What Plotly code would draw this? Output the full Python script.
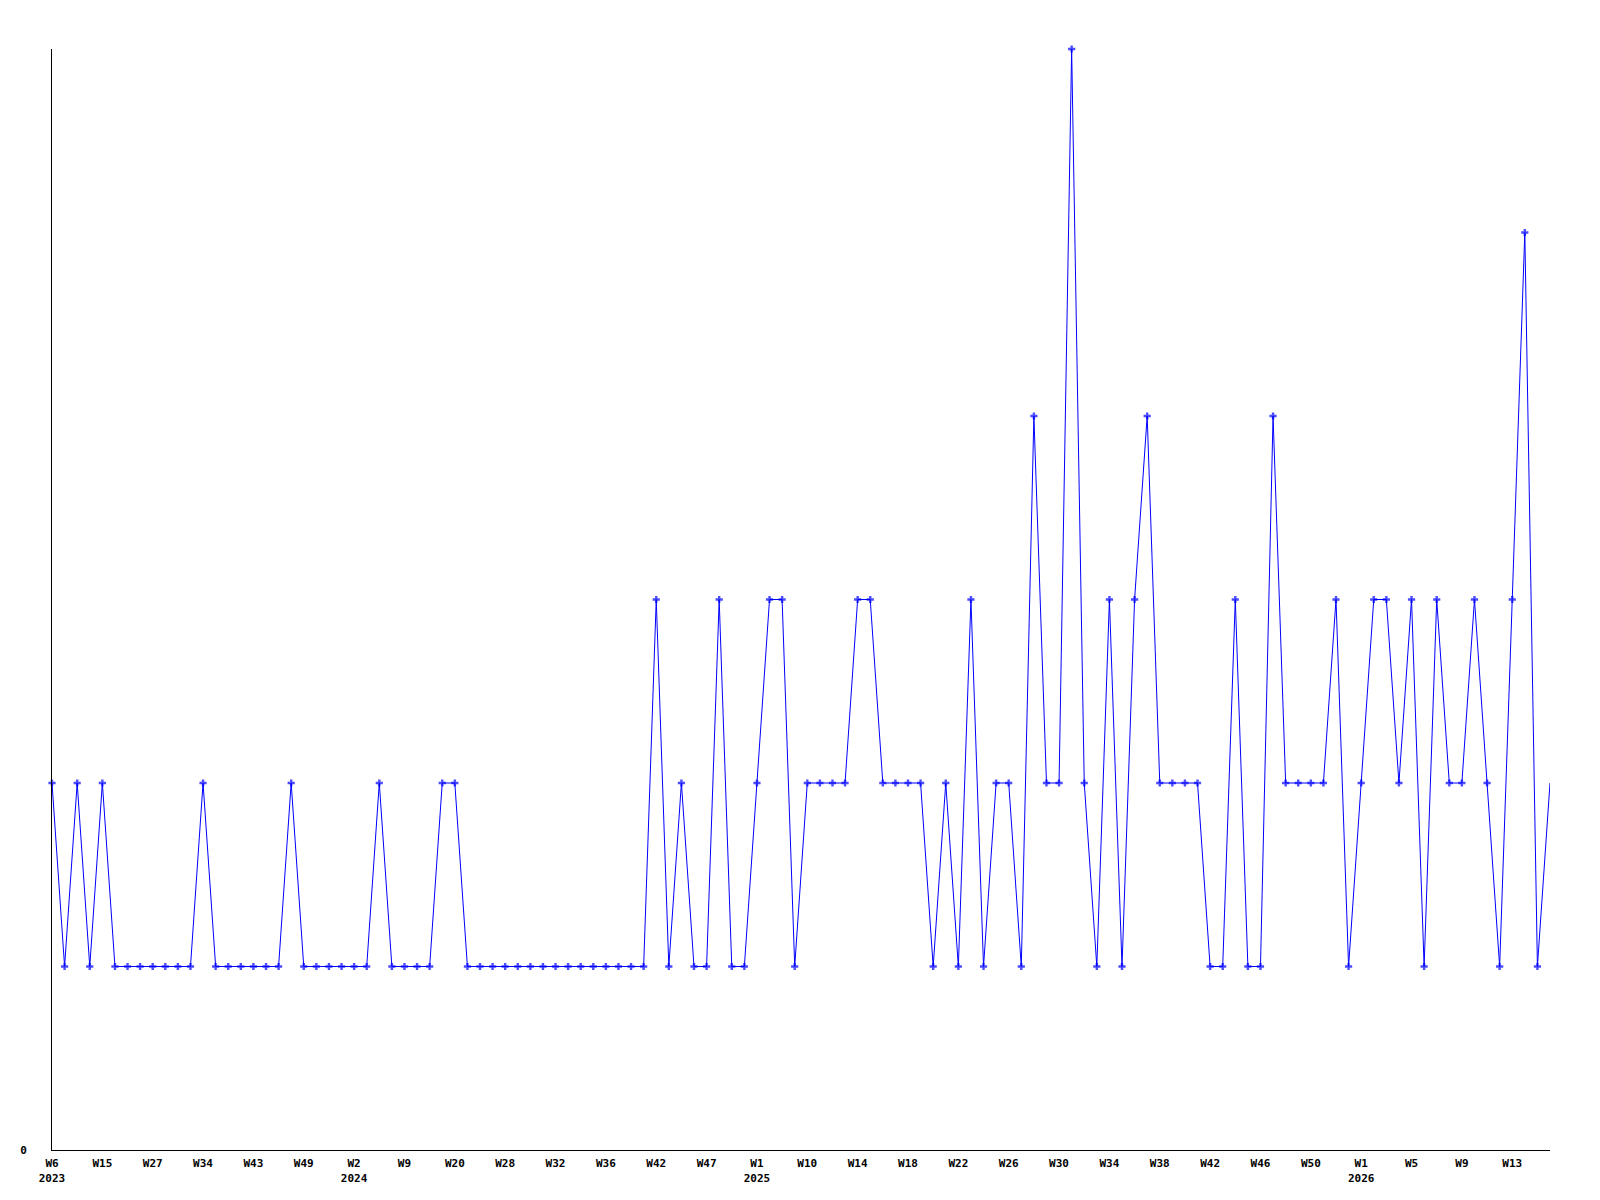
import plotly.graph_objects as go

# Weekly counts (one point per reported week, in order)
values = [
    2, 1, 2, 1, 2, 1, 1, 1, 1, 1, 1, 1, 2, 1, 1, 1, 1, 1, 1, 2,
    1, 1, 1, 1, 1, 1, 2, 1, 1, 1, 1, 2, 2, 1, 1, 1, 1, 1, 1, 1,
    1, 1, 1, 1, 1, 1, 1, 1, 3, 1, 2, 1, 1, 3, 1, 1, 2, 3, 3, 1,
    2, 2, 2, 2, 3, 3, 2, 2, 2, 2, 1, 2, 1, 3, 1, 2, 2, 1, 4, 2,
    2, 6, 2, 1, 3, 1, 3, 4, 2, 2, 2, 2, 1, 1, 3, 1, 1, 4, 2, 2,
    2, 2, 3, 1, 2, 3, 3, 2, 3, 1, 3, 2, 2, 3, 2, 1, 3, 5, 1, 2,
]

# Tick labels shown every 4th point
tick_labels = [
    "W6<br>2023", "W15", "W27", "W34", "W43", "W49",
    "W2<br>2024", "W9", "W20", "W28", "W32", "W36", "W42", "W47",
    "W1<br>2025", "W10", "W14", "W18", "W22", "W26", "W30", "W34",
    "W38", "W42", "W46", "W50",
    "W1<br>2026", "W5", "W9", "W13",
]
tick_step = 4

n = len(values)
x = list(range(n))
tickvals = [i * tick_step for i in range(len(tick_labels))]
marker_sizes = [6] * (n - 1) + [0]

font_family = "DejaVu Sans Mono"

fig = go.Figure()
fig.add_trace(go.Scatter(
    x=x, y=values,
    mode="lines+markers",
    line=dict(color="#0000FF", width=1),
    marker=dict(symbol="cross", size=marker_sizes, color="#0000FF",
                line=dict(width=0)),
    cliponaxis=False,
    showlegend=False,
    hoverinfo="skip",
))

fig.update_layout(
    width=1600, height=1200,
    margin=dict(l=42, r=58, t=41, b=58),
    paper_bgcolor="white", plot_bgcolor="white",
    font=dict(family=font_family, size=11, color="black"),
    xaxis=dict(
        range=[0, n - 1],
        tickmode="array", tickvals=tickvals, ticktext=tick_labels,
        showgrid=False, zeroline=False,
        showline=True, linecolor="black", linewidth=1,
        ticks="", ticklen=0, ticklabelstandoff=3,
        tickfont=dict(family=font_family, size=11, color="black", weight="bold"),
    ),
    yaxis=dict(
        range=[0, 6],
        tickmode="array", tickvals=[0], ticktext=["0"],
        showgrid=False, zeroline=False,
        showline=True, linecolor="black", linewidth=1,
        ticks="", ticklen=0, ticklabelstandoff=22,
        tickfont=dict(family=font_family, size=11, color="black", weight="bold"),
    ),
)

fig.write_html("out.html")
